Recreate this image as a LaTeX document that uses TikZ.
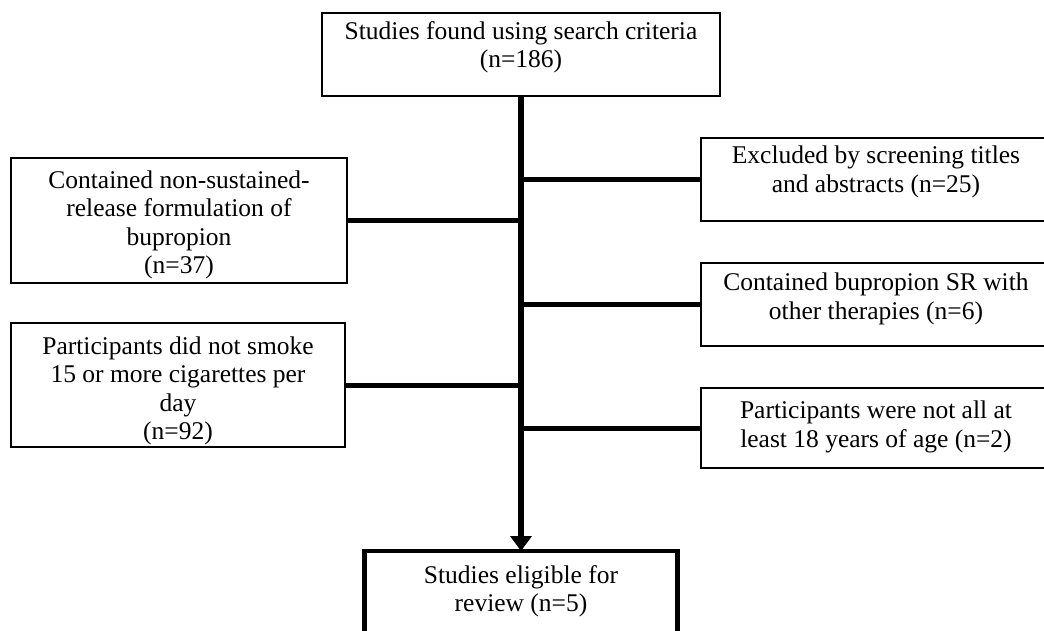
\documentclass[tikz,border=0pt]{standalone}
\usepackage{fontspec}
\setmainfont{Liberation Serif}
\usetikzlibrary{arrows.meta}
\begin{document}
\begin{tikzpicture}[x=1pt,y=-1pt,
  frame/.style={draw=black,line width=1.6pt,fill=white,inner sep=0pt,outer sep=0pt},
  thickframe/.style={draw=black,line width=4.5pt,fill=white,inner sep=0pt,outer sep=0pt},
  txt/.style={align=center,inner sep=0pt,font=\fontsize{25.5}{28.5}\selectfont},
  trunk/.style={line width=6pt,-{Triangle[width=21pt,length=15pt]}},
  conn/.style={line width=5pt}]
\useasboundingbox (0,0) rectangle (1044,630);
% boxes
\node[frame,minimum width=398pt,minimum height=83pt] (top) at (521,54.5) {};
\node[frame,minimum width=336pt,minimum height=125pt] (left1) at (179,220.5) {};
\node[frame,minimum width=334pt,minimum height=124pt] (left2) at (178,385) {};
\node[frame,minimum width=350pt,minimum height=83pt] (right1) at (876,179.5) {};
\node[frame,minimum width=350pt,minimum height=83pt] (right2) at (876,304.5) {};
\node[frame,minimum width=350pt,minimum height=80pt] (right3) at (876,428) {};
\node[thickframe,minimum width=313pt,minimum height=94pt] (bottom) at (521,598) {};
% texts
\node[txt] (ttop) at (521,47) {Studies found using search criteria\\(n=186)};
\node[txt] (tleft1) at (179,225) {Contained non-sustained-\\release formulation of\\bupropion\\(n=37)};
\node[txt] (tleft2) at (178,391) {Participants did not smoke\\15 or more cigarettes per\\day\\(n=92)};
\node[txt] (tright1) at (876,172) {Excluded by screening titles\\and abstracts (n=25)};
\node[txt] (tright2) at (876,299) {Contained bupropion SR with\\other therapies (n=6)};
\node[txt] (tright3) at (876,427) {Participants were not all at\\least 18 years of age (n=2)};
\node[txt] (tbottom) at (521,591) {Studies eligible for\\review (n=5)};
% trunk
\draw[trunk] (top.south) -- (bottom.north);
% connectors
\draw[conn] (left1.east) -- (left1.east -| top.south);
\draw[conn] (left2.east) -- (left2.east -| top.south);
\draw[conn] (right1.west) -- (right1.west -| top.south);
\draw[conn] (right2.west) -- (right2.west -| top.south);
\draw[conn] (right3.west) -- (right3.west -| top.south);
\end{tikzpicture}
\end{document}
